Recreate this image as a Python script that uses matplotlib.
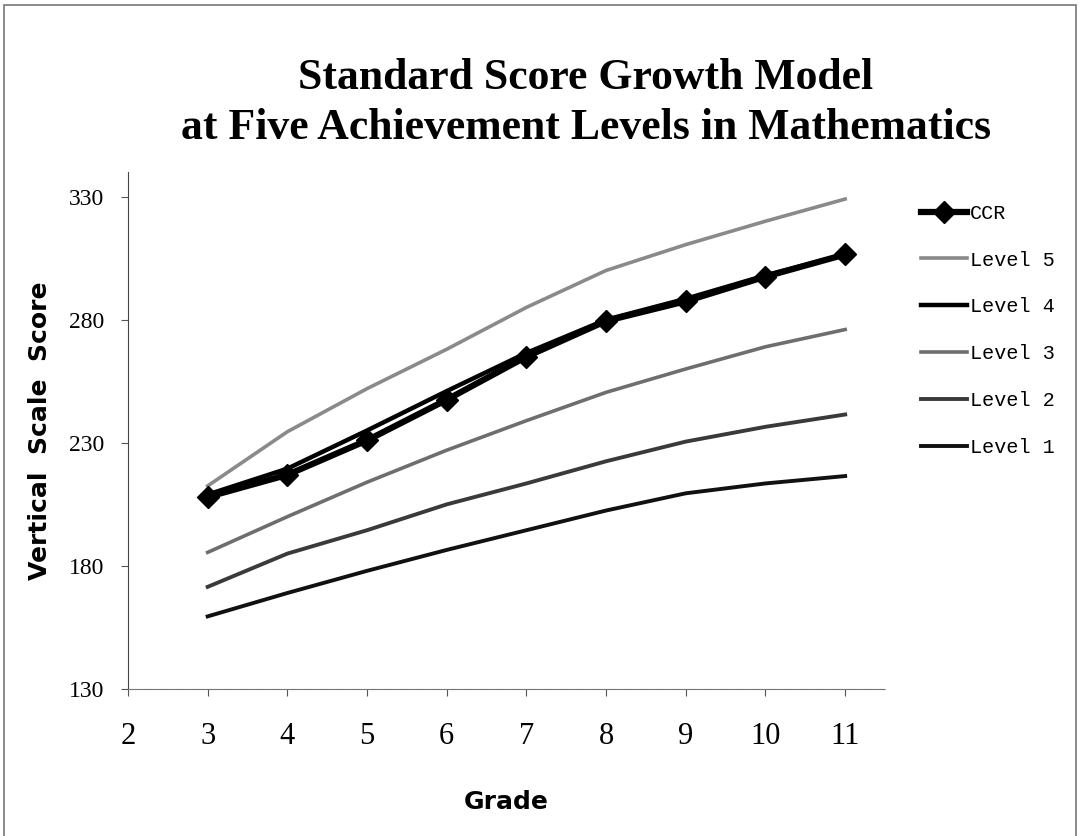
import matplotlib
matplotlib.use("Agg")
import matplotlib.pyplot as plt
from matplotlib.patches import Rectangle

grades = [3, 4, 5, 6, 7, 8, 9, 10, 11]
ccr = [208.0, 217.0, 231.0, 247.5, 265.0, 279.5, 287.5, 297.5, 306.5]
level5 = [212.5, 234.5, 252.0, 268.0, 285.0, 300.0, 310.5, 320.0, 329.0]
level4 = [209.0, 219.5, 235.0, 251.0, 266.5, 280.0, 288.5, 298.0, 306.5]
level3 = [185.5, 200.0, 214.0, 227.0, 239.0, 250.5, 260.0, 269.0, 276.0]
level2 = [171.5, 185.0, 194.5, 205.0, 213.5, 222.5, 230.5, 236.5, 241.5]
level1 = [159.5, 169.0, 178.0, 186.5, 194.5, 202.5, 209.5, 213.5, 216.5]
x_ticks = [2, 3, 4, 5, 6, 7, 8, 9, 10, 11]
y_ticks = [130, 180, 230, 280, 330]

fig = plt.figure(figsize=(10.81, 8.36), dpi=100)
fig.patch.set_facecolor("white")
ax = fig.add_axes([0.1184, 0.1758, 0.7003, 0.6185])

ax.plot(grades, level5, color="#8a8a8a", lw=2.6, label="Level 5", zorder=2)
ax.plot(grades, level4, color="black", lw=3.2, label="Level 4", zorder=3)
ax.plot(grades, level3, color="#6e6e6e", lw=2.6, label="Level 3", zorder=2)
ax.plot(grades, level2, color="#3a3a3a", lw=2.8, label="Level 2", zorder=2)
ax.plot(grades, level1, color="#111111", lw=2.8, label="Level 1", zorder=2)
ax.plot(grades, ccr, color="black", lw=4.5, marker="D", markersize=11,
        label="CCR", zorder=4)

ax.set_xlim(2, 11.5)
ax.set_ylim(130, 340)
ax.set_xticks(x_ticks)
ax.set_yticks(y_ticks)
ax.spines["top"].set_visible(False)
ax.spines["right"].set_visible(False)
ax.spines["left"].set_color("#444444")
ax.spines["bottom"].set_color("#777777")
ax.spines["bottom"].set_linestyle((0, (1, 0.6)))
ax.tick_params(axis="both", direction="out", length=5, color="#555555")
for lab in ax.get_xticklabels():
    lab.set_fontfamily("Liberation Serif")
    lab.set_fontsize(22)
for lab in ax.get_yticklabels():
    lab.set_fontfamily("Liberation Serif")
    lab.set_fontsize(17)
ax.tick_params(axis="x", pad=19)
ax.tick_params(axis="y", pad=12)

ax.set_xlabel("Grade", fontsize=18, fontweight="bold", family="DejaVu Sans", labelpad=28)
ax.set_ylabel("Vertical  Scale  Score", fontsize=18, fontweight="bold", family="DejaVu Sans", labelpad=12)

handles, labels = ax.get_legend_handles_labels()
order = ["CCR", "Level 5", "Level 4", "Level 3", "Level 2", "Level 1"]
hmap = dict(zip(labels, handles))
leg = fig.legend([hmap[k] for k in order], order, loc="upper left",
                 bbox_to_anchor=(0.835, 0.778), frameon=False,
                 prop={"family": "Liberation Mono", "size": 14.5},
                 handlelength=2.3, handletextpad=0.15, labelspacing=1.38)

fig.text(0.542, 0.907, "Standard Score Growth Model", ha="center", va="center",
         fontsize=31.5, fontweight="bold", family="Liberation Serif")
fig.text(0.542, 0.847, "at Five Achievement Levels in Mathematics", ha="center",
         va="center", fontsize=31.5, fontweight="bold", family="Liberation Serif")

fig.add_artist(Rectangle((0.004, -0.02), 0.991, 1.014, transform=fig.transFigure,
                         fill=False, edgecolor="#777777", lw=1.2))

fig.savefig("out.png", dpi=100, facecolor="white")
